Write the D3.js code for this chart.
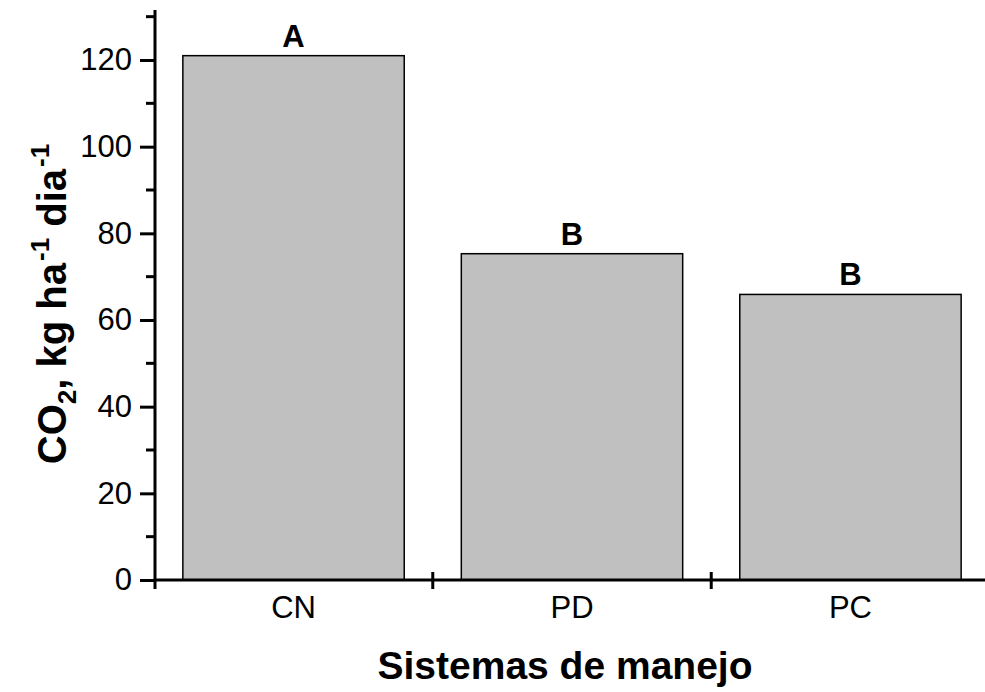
<!DOCTYPE html>
<html>
<head>
<meta charset="utf-8">
<script src="https://cdn.jsdelivr.net/npm/d3@7"></script>
<style>
  html, body { margin: 0; padding: 0; background: #fff; }
  svg { display: block; font-family: "Liberation Sans", Arial, sans-serif; }
</style>
</head>
<body>
<svg id="chart" width="985" height="692"></svg>
<script>
// Soil CO2 emission by management system
const categories = ["CN", "PD", "PC"];
const values = [121, 75.3, 65.9];
const letters = ["A", "B", "B"];
const yTicks = [0, 20, 40, 60, 80, 100, 120];
const yMinorTicks = [10, 30, 50, 70, 90, 110, 130];

const svg = d3.select("#chart");
const W = 985;
const x0 = 155, x1 = 989;
const yBase = 580;
const FONT = "Liberation Sans, Arial, sans-serif";

const x = d3.scaleBand().domain(categories).range([x0, x1]).paddingInner(0.205).paddingOuter(0.1);
const y = d3.scaleLinear().domain([0, 120]).range([yBase, 60]);

// bars
svg.append("g").selectAll("rect")
  .data(categories)
  .join("rect")
  .attr("x", d => x(d))
  .attr("y", (d, i) => y(values[i]))
  .attr("width", x.bandwidth())
  .attr("height", (d, i) => y(0) - y(values[i]))
  .attr("fill", "#c0c0c0")
  .attr("stroke", "#000")
  .attr("stroke-width", 1.5);

// significance letters
svg.append("g").selectAll("text")
  .data(categories)
  .join("text")
  .attr("x", d => x(d) + x.bandwidth() / 2)
  .attr("y", (d, i) => y(values[i]) - 9)
  .attr("text-anchor", "middle")
  .attr("font-weight", "bold")
  .attr("font-size", 31)
  .text((d, i) => letters[i]);

// y axis
const yAxis = d3.axisLeft(y).tickValues(yTicks).tickSize(15).tickPadding(8).tickFormat(d3.format("d"));
const gy = svg.append("g").attr("transform", `translate(${x0},0)`).call(yAxis)
  .attr("font-size", 31).attr("font-family", FONT);
gy.select(".domain").remove();
gy.selectAll(".tick line").attr("stroke-width", 3);
gy.selectAll(".tick text").attr("fill", "#000");
svg.append("g").selectAll("line")
  .data(yMinorTicks)
  .join("line")
  .attr("x1", x0 - 9).attr("x2", x0)
  .attr("y1", d => y(d)).attr("y2", d => y(d))
  .attr("stroke", "#000").attr("stroke-width", 3);
svg.append("line")
  .attr("x1", x0).attr("x2", x0)
  .attr("y1", 10).attr("y2", yBase + 9)
  .attr("stroke", "#000").attr("stroke-width", 3);

// x axis
svg.append("line")
  .attr("x1", x0 - 1.5).attr("x2", W)
  .attr("y1", yBase).attr("y2", yBase)
  .attr("stroke", "#000").attr("stroke-width", 3);
const step = x.step();
const boundaries = categories.slice(1).map(d => x(d) - (step - x.bandwidth()) / 2);
svg.append("g").selectAll("line")
  .data(boundaries)
  .join("line")
  .attr("x1", d => d).attr("x2", d => d)
  .attr("y1", yBase - 8).attr("y2", yBase + 9)
  .attr("stroke", "#000").attr("stroke-width", 3);
svg.append("g").selectAll("text")
  .data(categories)
  .join("text")
  .attr("x", d => x(d) + x.bandwidth() / 2)
  .attr("y", 618)
  .attr("text-anchor", "middle")
  .attr("font-size", 31)
  .text(d => d);

// axis titles
svg.append("text")
  .attr("x", 565).attr("y", 679)
  .attr("text-anchor", "middle")
  .attr("font-weight", "bold")
  .attr("font-size", 39)
  .text("Sistemas de manejo");

const yt = svg.append("text")
  .attr("transform", "translate(66,304) rotate(-90)")
  .attr("text-anchor", "middle")
  .attr("font-weight", "bold")
  .attr("font-size", 40);
yt.append("tspan").text("CO");
yt.append("tspan").attr("font-size", 26).attr("dy", 10).text("2");
yt.append("tspan").attr("dy", -10).text(", kg ha");
yt.append("tspan").attr("font-size", 26).attr("dy", -17).attr("dx", 2).text("-1");
yt.append("tspan").attr("dy", 17).text(" dia");
yt.append("tspan").attr("font-size", 26).attr("dy", -17).attr("dx", 2).text("-1");
</script>
</body>
</html>
